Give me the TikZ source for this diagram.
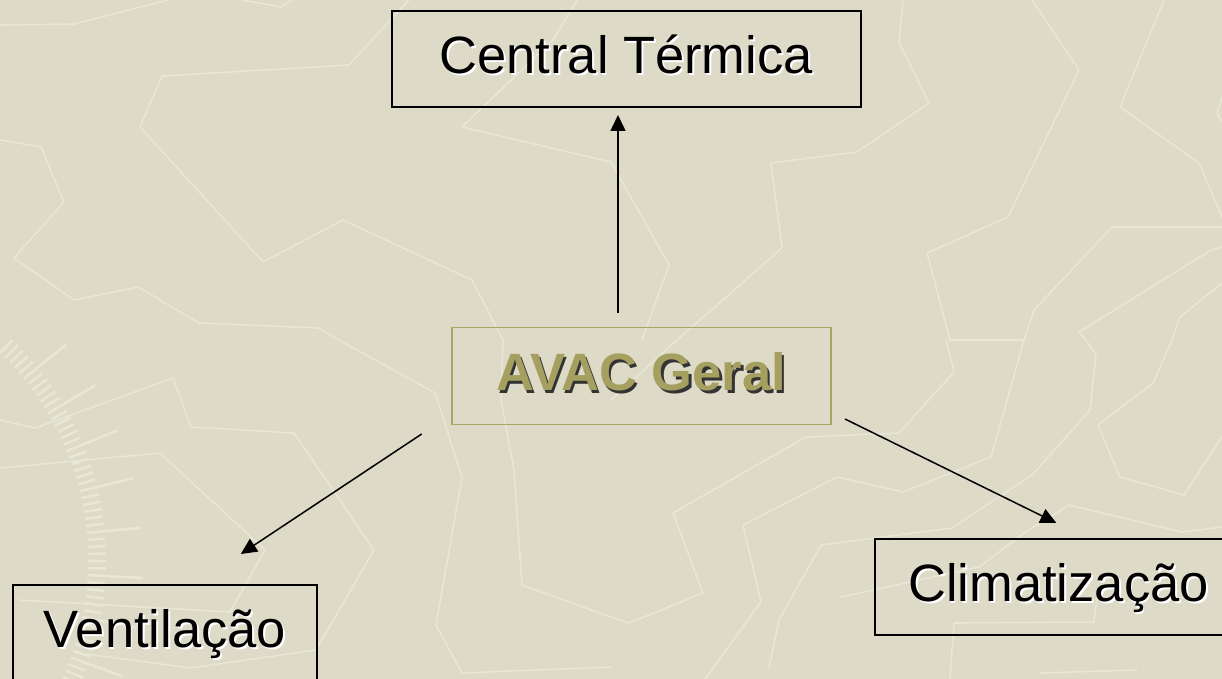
\documentclass[tikz,border=0pt]{standalone}
\usepackage{fontspec}
\setmainfont{Liberation Sans}
\usetikzlibrary{arrows.meta}
\definecolor{bgc}{RGB}{221,218,199}
\definecolor{patc}{RGB}{232,230,213}
\definecolor{olivec}{RGB}{166,160,96}
\definecolor{oliveb}{RGB}{170,164,100}
\begin{document}
\begin{tikzpicture}[x=1pt,y=-1pt,
  pat/.style={draw=patc, line width=1.6pt, line join=round},
  tick/.style={draw=patc, line width=2.6pt},
  box/.style={draw=black, line width=1.8pt, minimum height=96pt, inner sep=0pt},
  mainbox/.style={draw=oliveb, line width=1.8pt, minimum height=97pt, inner sep=0pt},
  lbl/.style={font=\fontsize{52.5}{60}\selectfont, inner sep=0pt, text height=37.6pt, text depth=0pt},
  lblshadow/.style={lbl, text=white},
  mainlbl/.style={lbl, font=\fontsize{52.5}{60}\selectfont\bfseries, text=olivec},
  mainshadow/.style={lbl, font=\fontsize{52.5}{60}\selectfont\bfseries, text=black!80},
  arr/.style={draw=black, line width=1.5pt, -{Triangle[length=16pt,width=15pt]}}]
\useasboundingbox (0,0) rectangle (1222,679);
\fill[bgc] (0,0) rectangle (1222,679);
\clip (0,0) rectangle (1222,679);
% background pattern
\draw[pat] (0,25) -- (74,24) -- (168,0);
\draw[pat] (242,0) -- (281,7) -- (292,0);
\draw[pat] (0,140) -- (41,147) -- (64,202) -- (14,258) -- (74,300) -- (138,287) -- (199,323) -- (318,328) -- (339,340) -- (435,393) -- (462,477) -- (436,625) -- (462,673) -- (611,667);
\draw[pat] (409,0) -- (349,65) -- (162,76) -- (140,127) -- (263,262) -- (343,220) -- (472,280) -- (503,340) -- (501,400) -- (514,470) -- (522,585) -- (611,617) -- (629,623) -- (703,593) -- (673,513) -- (806,437) -- (899,433) -- (954,372) -- (946,340);
\draw[pat] (577,0) -- (553,40) -- (462,127) -- (611,162) -- (669,265) -- (642,340);
\draw[pat] (903,0) -- (899,42) -- (929,103) -- (857,152) -- (771,163) -- (782,248) -- (677,340) -- (611,400);
\draw[pat] (1032,0) -- (1079,70) -- (1008,217) -- (927,253) -- (950,340) -- (1024,340) -- (991,457) -- (903,492) -- (837,477) -- (743,525) -- (761,602) -- (705,679);
\draw[pat] (1164,0) -- (1120,107) -- (1199,163) -- (1222,217);
\draw[pat] (1222,227) -- (1112,227) -- (1034,310) -- (1024,340);
\draw[pat] (1222,247) -- (1211,250) -- (1079,332) -- (1086,340) -- (1096,355) -- (1090,410) -- (1032,475) -- (952,528) -- (821,545) -- (779,620) -- (769,668);
\draw[pat] (1222,283) -- (1180,317) -- (1172,340) -- (1153,383) -- (1098,425) -- (1120,477) -- (1184,495) -- (1222,437);
\draw[pat] (1222,97) -- (1217,113) -- (1222,122);
\draw[pat] (841,597) -- (979,567) -- (1024,533) -- (1069,505) -- (1182,532) -- (1222,527);
\draw[pat] (950,679) -- (954,623) -- (1094,622) -- (1098,590);
\draw[pat] (1040,673) -- (1137,670);
\draw[pat] (0,420) -- (35,428) -- (173,378) -- (191,427) -- (294,433) -- (374,550) -- (316,650) -- (191,668) -- (78,653);
\draw[pat] (0,468) -- (160,453) -- (265,550) -- (230,612) -- (20,600);
\foreach \a [count=\i] in {-46,-44.6,...,24} {
  \pgfmathsetmacro{\len}{ifthenelse(mod(\i,6)==0,55,18)}
  \draw[tick] (-200,560) ++(\a:288) -- ++(\a:\len);
}
% nodes
\node[box, minimum width=469pt] (central) at (626.2,58.7) {};
\node[lblshadow, xshift=1.8pt, yshift=2.2pt] (centrals) at (central.center) {Central Térmica};
\node[lbl, yshift=4pt] (centralt) at (central.center) {Central Térmica};
\node[mainbox, minimum width=379pt] (avac) at (641.2,376) {};
\node[mainshadow, xshift=2.5pt, yshift=1.5pt] (avacs) at (avac.center) {AVAC Geral};
\node[mainlbl, yshift=4pt] (avact) at (avac.center) {AVAC Geral};
\node[box, minimum width=304pt] (vent) at (165,633) {};
\node[lblshadow, xshift=1.8pt, yshift=2.2pt] (vents) at (vent.center) {Ventilação};
\node[lbl, yshift=4pt] (ventt) at (vent.center) {Ventilação};
\node[box, minimum width=367pt] (clim) at (1058.5,587) {};
\node[lblshadow, xshift=1.8pt, yshift=2.2pt] (clims) at (clim.center) {Climatização};
\node[lbl, yshift=4pt] (climt) at (clim.center) {Climatização};
% connector ends
\coordinate (a1) at (618,313);
\coordinate (b1) at (618,115);
\coordinate (a2) at (421.7,434);
\coordinate (b2) at (240.8,554);
\coordinate (a3) at (845,419);
\coordinate (b3) at (1056.4,523);
\draw[arr] (a1) -- (b1);
\draw[arr] (a2) -- (b2);
\draw[arr] (a3) -- (b3);
\end{tikzpicture}
\end{document}
